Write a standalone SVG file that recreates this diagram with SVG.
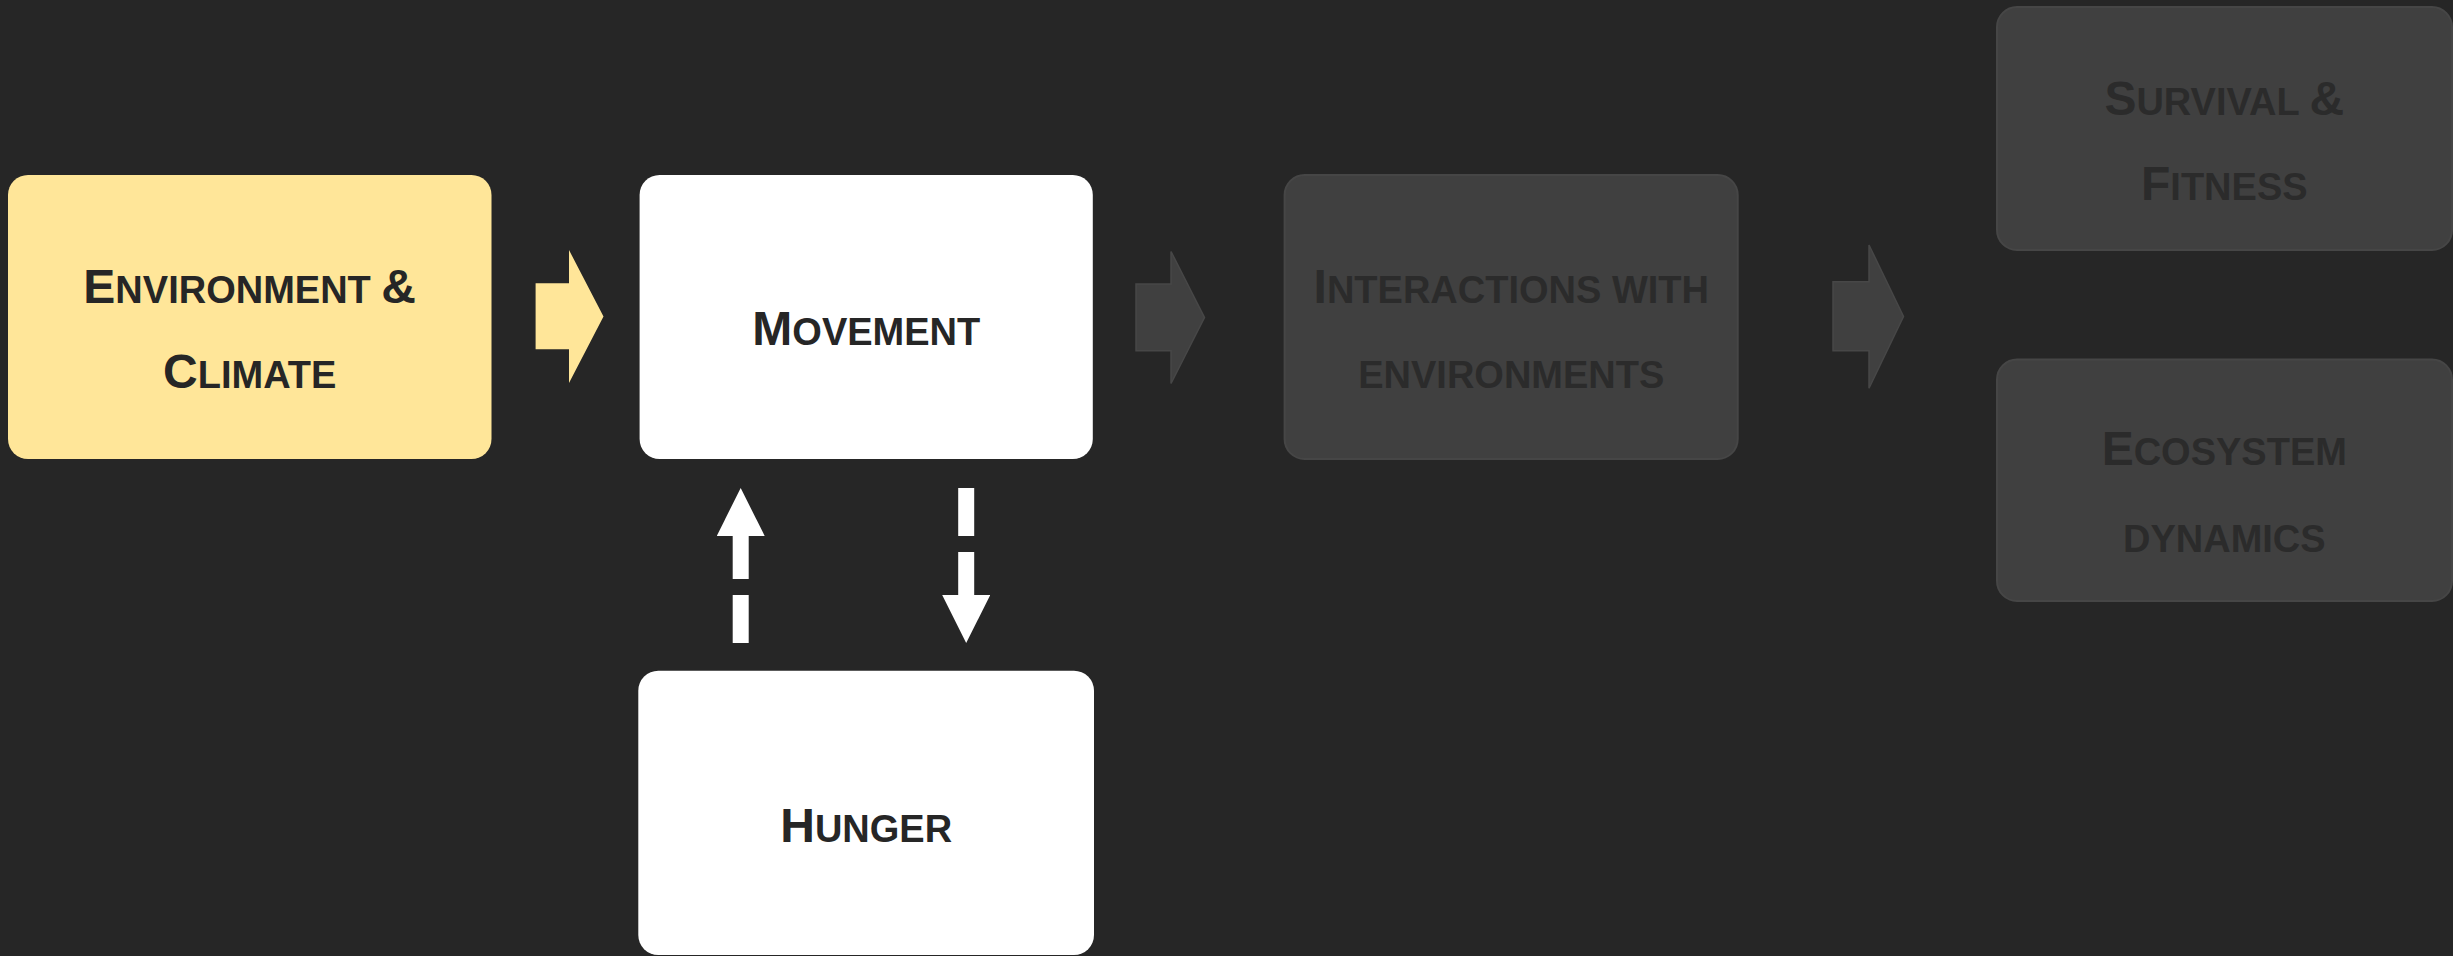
<svg xmlns="http://www.w3.org/2000/svg" width="2453" height="956" viewBox="0 0 2453 956">
<style>
.t{font-family:"Liberation Sans",Arial,sans-serif;font-weight:bold;text-anchor:middle}
.b{font-size:48px}
.s{font-size:38px}
.dk{fill:#262626}
.gt{fill:#2b2b2b}
.yel{fill:#FFE699}
.wht{fill:#FFFFFF}
.gry{fill:#404040;stroke:#464646;stroke-width:2}
.garrow{fill:#404040;stroke:#474747;stroke-width:1.5}
.dash{stroke:#FFFFFF;stroke-width:16;stroke-dasharray:48 16;fill:none}
</style>
<defs>
<marker id="head" markerUnits="userSpaceOnUse" markerWidth="48" markerHeight="48" refX="0" refY="24" orient="auto" viewBox="0 0 48 48">
<path d="M0,0 L48,24 L0,48 Z" fill="#FFFFFF"/>
</marker>
</defs>
<rect width="2453" height="956" fill="#262626"/>

<g id="connectors">
<polygon points="535.6,283.3 569,283.3 569,250 603.5,316.5 569,383 569,349.3 535.6,349.3" class="yel"/>
<polygon points="1136,284 1171,284 1171,251.5 1204.5,317.5 1171,383.5 1171,350.7 1136,350.7" class="garrow"/>
<polygon points="1833,281.7 1869,281.7 1869,245 1903.5,316.5 1869,388.3 1869,350.7 1833,350.7" class="garrow"/>
<line x1="740.7" y1="643" x2="740.7" y2="536" class="dash" marker-end="url(#head)"/>
<line x1="966.2" y1="488" x2="966.2" y2="595" class="dash" marker-end="url(#head)"/>
</g>

<g id="env">
<rect x="8" y="175" width="483.5" height="284" rx="20" ry="20" class="yel"/>
<text class="t dk" x="249.7" y="302.7"><tspan class="b">E</tspan><tspan class="s">NVIRONMENT </tspan><tspan class="b">&amp;</tspan></text>
<text class="t dk" x="249.7" y="388.3"><tspan class="b">C</tspan><tspan class="s">LIMATE</tspan></text>
</g>

<g id="movement">
<rect x="639.6" y="175" width="453.2" height="284" rx="20" ry="20" class="wht"/>
<text class="t dk" x="866.3" y="345"><tspan class="b">M</tspan><tspan class="s">OVEMENT</tspan></text>
</g>

<g id="interactions">
<rect x="1284.6" y="175" width="453.1" height="284" rx="20" ry="20" class="gry"/>
<text class="t gt" x="1511.3" y="302.7"><tspan class="b">I</tspan><tspan class="s">NTERACTIONS WITH</tspan></text>
<text class="t gt" x="1511.3" y="388.3"><tspan class="s">ENVIRONMENTS</tspan></text>
</g>

<g id="survival">
<rect x="1997" y="7" width="455" height="243" rx="20" ry="20" class="gry"/>
<text class="t gt" x="2224.3" y="114.7"><tspan class="b">S</tspan><tspan class="s">URVIVAL </tspan><tspan class="b">&amp;</tspan></text>
<text class="t gt" x="2224.3" y="199.8"><tspan class="b">F</tspan><tspan class="s">ITNESS</tspan></text>
</g>

<g id="ecosystem">
<rect x="1997" y="359.5" width="455" height="241.5" rx="20" ry="20" class="gry"/>
<text class="t gt" x="2224.3" y="464.8"><tspan class="b">E</tspan><tspan class="s">COSYSTEM</tspan></text>
<text class="t gt" x="2224.3" y="551.8"><tspan class="s">DYNAMICS</tspan></text>
</g>

<g id="hunger">
<rect x="638.3" y="670.7" width="455.7" height="284.3" rx="20" ry="20" class="wht"/>
<text class="t dk" x="866.2" y="841.7"><tspan class="b">H</tspan><tspan class="s">UNGER</tspan></text>
</g>
</svg>
